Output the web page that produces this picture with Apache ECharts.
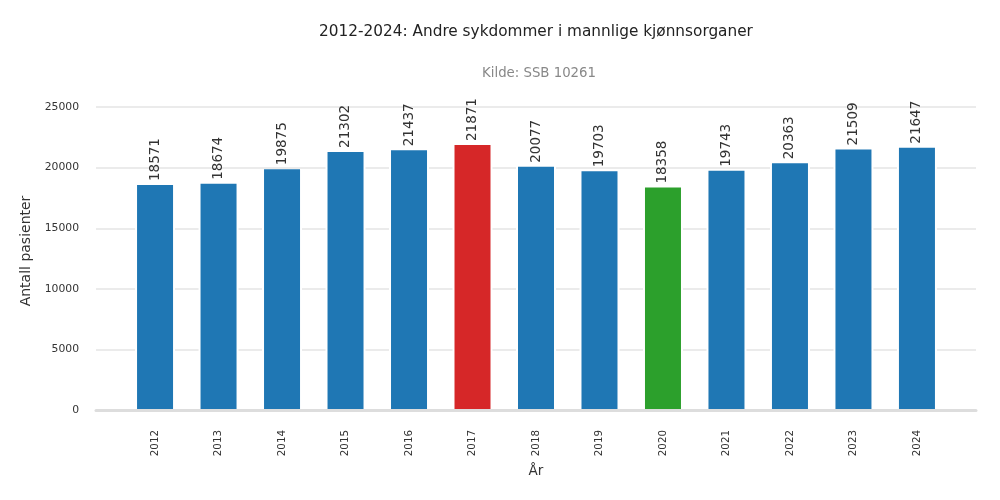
<!DOCTYPE html>
<html>
<head>
<meta charset="utf-8">
<script src="https://cdn.jsdelivr.net/npm/echarts@6/dist/echarts.min.js"></script>
<style>html,body{margin:0;padding:0;background:#fff}#c{width:1000px;height:500px}</style>
</head>
<body>
<div id="c"></div>
<script>
const years = ['2012','2013','2014','2015','2016','2017','2018','2019','2020','2021','2022','2023','2024'];
const patients = [18571, 18674, 19875, 21302, 21437, 21871, 20077, 19703, 18358, 19743, 20363, 21509, 21647];
const yTicks = [0, 5000, 10000, 15000, 20000, 25000];

const maxV = Math.max(...patients), minV = Math.min(...patients);
const colorFor = v => v === maxV ? '#d62728' : (v === minV ? '#2ca02c' : '#1f77b4');
const yMax = Math.round(maxV * 1.2);

const chart = echarts.init(document.getElementById('c'));
const FONT = 'DejaVu Sans';
const xBase = {
  type: 'value', min: -0.93, max: 12.93
};
chart.setOption({
  animation: false,
  textStyle: { fontFamily: FONT },
  title: [
    { text: '2012-2024: Andre sykdommer i mannlige kjønnsorganer', left: 531, top: 20, textAlign: 'center',
      textStyle: { fontFamily: FONT, fontSize: 15.3, fontWeight: 'normal', color: '#222' } },
    { text: 'Kilde: SSB 10261', left: 534, top: 62, textAlign: 'center',
      textStyle: { fontFamily: FONT, fontSize: 13.3, fontWeight: 'normal', color: '#888' } }
  ],
  grid: { left: 96, right: 24, top: 92, bottom: 90 },
  xAxis: [Object.assign({}, xBase, {
    z: 5,
    name: 'År', nameLocation: 'middle', nameGap: 50,
    nameTextStyle: { fontFamily: FONT, fontSize: 13.5, color: '#333' },
    axisLine: { show: true, lineStyle: { color: '#dddddd', width: 3 } },
    axisTick: { show: false },
    splitLine: { show: false },
    axisLabel: {
      customValues: years.map((y, i) => i),
      formatter: v => years[Math.round(v)],
      rotate: 90, margin: 20, fontSize: 10.3, color: '#333', fontFamily: FONT
    }
  }), Object.assign({}, xBase, {
    show: false, splitLine: { show: false }
  })],
  yAxis: {
    type: 'value', min: 0, max: yMax, interval: 5000,
    name: 'Antall pasienter', nameLocation: 'middle', nameGap: 55,
    nameTextStyle: { fontFamily: FONT, fontSize: 14, color: '#333' },
    axisLine: { show: false }, axisTick: { show: false },
    axisLabel: { fontSize: 10.8, color: '#333', margin: 17, fontFamily: FONT,
      customValues: yTicks,
      formatter: v => String(v) },
    splitLine: { showMaxLine: false, lineStyle: { color: '#ebebeb', width: 2 } }
  },
  series: [{
    type: 'bar', z: 1, xAxisIndex: 1,
    barWidth: 40, silent: true,
    data: patients.map((v, i) => [i, v]),
    itemStyle: { color: '#ffffff' }
  }, {
    type: 'bar', z: 2, xAxisIndex: 0,
    barWidth: 36,
    data: patients.map((v, i) => ({ value: [i, v], itemStyle: { color: colorFor(v) } })),
    label: {
      show: true, position: 'top', rotate: 90, align: 'left', verticalAlign: 'middle',
      distance: 4, fontSize: 13.5, color: '#333', fontFamily: FONT,
      formatter: p => String(p.value[1])
    }
  }]
});
</script>
</body>
</html>
